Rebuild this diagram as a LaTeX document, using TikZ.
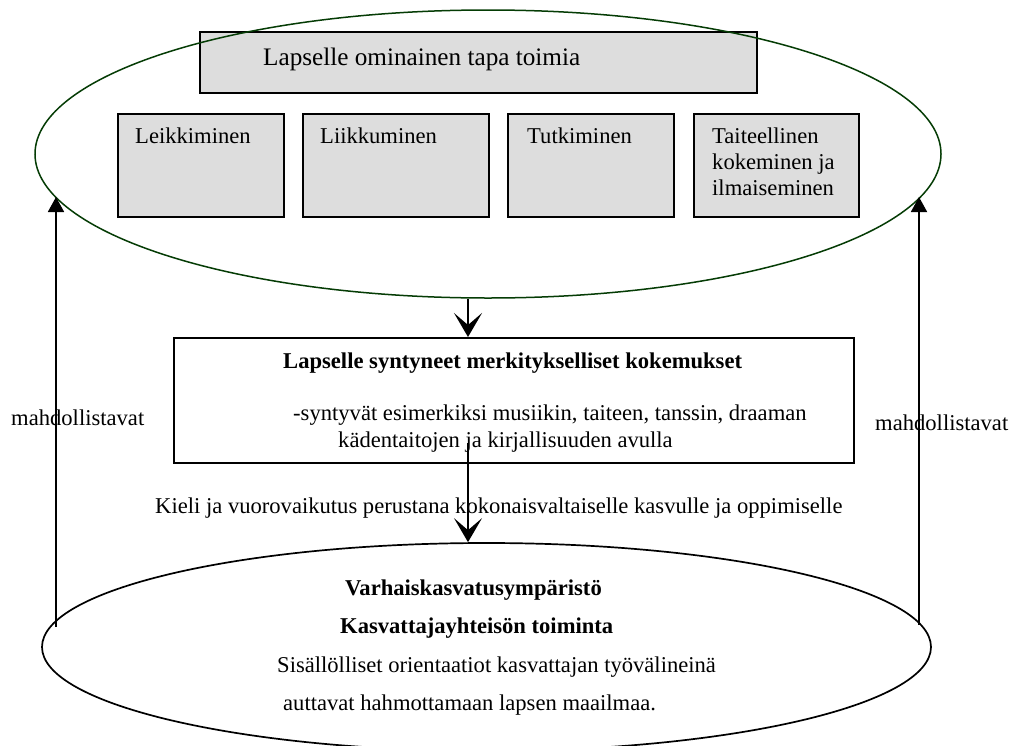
\documentclass[tikz,border=0pt]{standalone}
\usepackage{fontspec}
\setmainfont{Liberation Serif}
\usetikzlibrary{shapes.geometric,arrows.meta}
\definecolor{egreen}{RGB}{5,60,5}
\definecolor{boxgray}{RGB}{221,221,221}
\tikzset{
  txt/.style={anchor=base west,inner sep=0pt,font=\fontsize{22.6}{27}\selectfont},
  btxt/.style={txt,font=\fontsize{22.6}{27}\selectfont\bfseries},
  gbox/.style={draw=black,fill=boxgray,line width=1.8pt,anchor=north west,inner sep=0pt,minimum height=103pt},
  wbox/.style={draw=black,fill=white,line width=1.8pt,anchor=north west,inner sep=0pt},
  dnarrow/.style={line width=1.8pt,-{Stealth[length=24pt,width=28pt,inset=12pt]}},
  uparrow/.style={line width=1.8pt,-{Triangle[length=15pt,width=16pt]}},
}
\begin{document}
\begin{tikzpicture}[x=1pt,y=-1pt]
\useasboundingbox (0,0) rectangle (1014,745);
\fill[white] (0,0) rectangle (1014,745);
% top group
\node[gbox,minimum width=557pt,minimum height=61pt] (head) at (199,31) {};
\node[txt,font=\fontsize{25.2}{30}\selectfont] (headt) at (263,65) {Lapselle ominainen tapa toimia};
\node[gbox,minimum width=166pt] (b1) at (117,113) {};
\node[gbox,minimum width=186pt] (b2) at (302,113) {};
\node[gbox,minimum width=166pt] (b3) at (507,113) {};
\node[gbox,minimum width=165pt] (b4) at (693,113) {};
\node[txt] (t1) at (135,143) {Leikkiminen};
\node[txt] (t2) at (320,143) {Liikkuminen};
\node[txt] (t3) at (527,143) {Tutkiminen};
\node[txt] (t4a) at (712,143) {Taiteellinen};
\node[txt] (t4b) at (712,169) {kokeminen ja};
\node[txt] (t4c) at (712,195) {ilmaiseminen};
\node[draw=egreen,ellipse,line width=1.5pt,minimum width=906pt,minimum height=288pt,inner sep=0pt] (topE) at (488,154) {};
% middle box
\node[wbox,minimum width=680pt,minimum height=125pt] (mid) at (173,337) {};
\node[btxt] (midh) at (283,368) {Lapselle syntyneet merkitykselliset kokemukset};
\node[txt] (mid1) at (293,420) {-syntyvät esimerkiksi musiikin, taiteen, tanssin, draaman};
\node[txt] (mid2) at (338,447) {kädentaitojen ja kirjallisuuden avulla};
\node[txt] (kieli) at (155,513) {Kieli ja vuorovaikutus perustana kokonaisvaltaiselle kasvulle ja oppimiselle};
% bottom ellipse
\begin{scope}
\clip (0,0) rectangle (1014,745);
\node[draw=black,ellipse,line width=1.7pt,minimum width=889pt,minimum height=208pt,inner sep=0pt] (botE) at (486.5,647) {};
\end{scope}
\node[btxt] (v1) at (345,595) {Varhaiskasvatusympäristö};
\node[btxt] (v2) at (340,633) {Kasvattajayhteisön toiminta};
\node[txt] (v3) at (277,672) {Sisällölliset orientaatiot kasvattajan työvälineinä};
\node[txt] (v4) at (283,710) {auttavat hahmottamaan lapsen maailmaa.};
% labels
\node[txt] (mL) at (11,425) {mahdollistavat};
\node[txt] (mR) at (875,430) {mahdollistavat};
% connectors
\coordinate (c1) at (468,0);
\coordinate (c2) at (468,443);
\coordinate (lb) at (56,627);
\coordinate (lt) at (56,197);
\coordinate (rb) at (919,625);
\coordinate (rt) at (919,197);
\draw[dnarrow] (topE.south -| c1) -- (mid.north -| c1);
\draw[dnarrow] (c2) -- (botE.north -| c2);
\draw[uparrow] (lb) -- (lt);
\draw[uparrow] (rb) -- (rt);
\end{tikzpicture}
\end{document}
